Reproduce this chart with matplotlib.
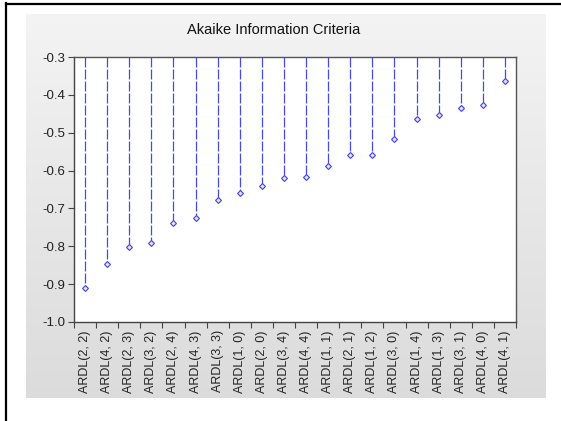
import numpy as np
import matplotlib
matplotlib.use("Agg")
import matplotlib.pyplot as plt
from matplotlib.lines import Line2D

labels = ["ARDL(2, 2)", "ARDL(4, 2)", "ARDL(2, 3)", "ARDL(3, 2)", "ARDL(2, 4)",
          "ARDL(4, 3)", "ARDL(3, 3)", "ARDL(1, 0)", "ARDL(2, 0)", "ARDL(3, 4)",
          "ARDL(4, 4)", "ARDL(1, 1)", "ARDL(2, 1)", "ARDL(1, 2)", "ARDL(3, 0)",
          "ARDL(1, 4)", "ARDL(1, 3)", "ARDL(3, 1)", "ARDL(4, 0)", "ARDL(4, 1)"]
aic = [-0.910, -0.846, -0.802, -0.790, -0.738, -0.726, -0.679, -0.659, -0.640, -0.620,
       -0.616, -0.588, -0.560, -0.559, -0.517, -0.463, -0.453, -0.436, -0.427, -0.364]
yticks = [-1.0, -0.9, -0.8, -0.7, -0.6, -0.5, -0.4, -0.3]

plt.rcParams['font.family'] = ['Liberation Sans', 'DejaVu Sans']

W, H = 561, 421
fig = plt.figure(figsize=(W / 100, H / 100), dpi=100)
fig.patch.set_facecolor('white')

# gray gradient panel behind the chart
bg = fig.add_axes([26 / W, 1 - 398 / H, 520 / W, 384 / H], zorder=0)
grad = np.linspace(0.955, 0.86, 256).reshape(-1, 1)
bg.imshow(np.dstack([grad, grad, grad]), aspect='auto', extent=[0, 1, 0, 1])
bg.axis('off')

# black frame lines on left and top
fig.add_artist(Line2D([6 / W, 6 / W], [0, 1 - 3 / H], color='black', lw=1.6, transform=fig.transFigure))
fig.add_artist(Line2D([6 / W, 1], [1 - 3.5 / H, 1 - 3.5 / H], color='black', lw=1.6, transform=fig.transFigure))

ax = fig.add_axes([74 / W, 1 - 322 / H, 442 / W, 265 / H], zorder=1)
ax.set_facecolor('white')

x = np.arange(len(aic))
top = -0.3
for xi, v in zip(x, aic):
    ax.plot([xi, xi], [top, v], color='#4848f0', lw=0.9, dashes=(8, 1.6), zorder=2)
ax.plot(x, aic, linestyle='none', marker='D', markersize=3.0, markerfacecolor='#e6e6ff',
        markeredgecolor='#4040f0', markeredgewidth=0.8, zorder=3)

ax.set_xlim(-0.5, len(aic) - 0.5)
ax.set_ylim(-1.0, -0.3)
ax.set_yticks(yticks)
ax.set_yticklabels([f"{t:.1f}" for t in yticks])
ax.tick_params(axis='y', direction='out', length=4, width=0.8, color='#444444',
               labelsize=9.5, labelcolor='#222222', pad=2)

ax.set_xticks(np.arange(len(aic) + 1) - 0.5)
ax.set_xticklabels([])
ax.tick_params(axis='x', which='major', direction='out', length=4, width=0.8, color='#444444')
ax.set_xticks(x, minor=True)
ax.set_xticklabels(labels, minor=True, rotation=90, fontsize=9, color='#222222')
ax.tick_params(axis='x', which='minor', length=0, pad=6)

for s in ['left', 'bottom']:
    ax.spines[s].set_color('#444444')
    ax.spines[s].set_linewidth(1.0)
for s in ['top', 'right']:
    ax.spines[s].set_color('#555555')
    ax.spines[s].set_linewidth(1.0)

fig.text(274 / W, 1 - 30 / H, "Akaike Information Criteria", ha='center', va='center',
         fontsize=10.5, color='#111111')

fig.savefig("out.png", dpi=100)
